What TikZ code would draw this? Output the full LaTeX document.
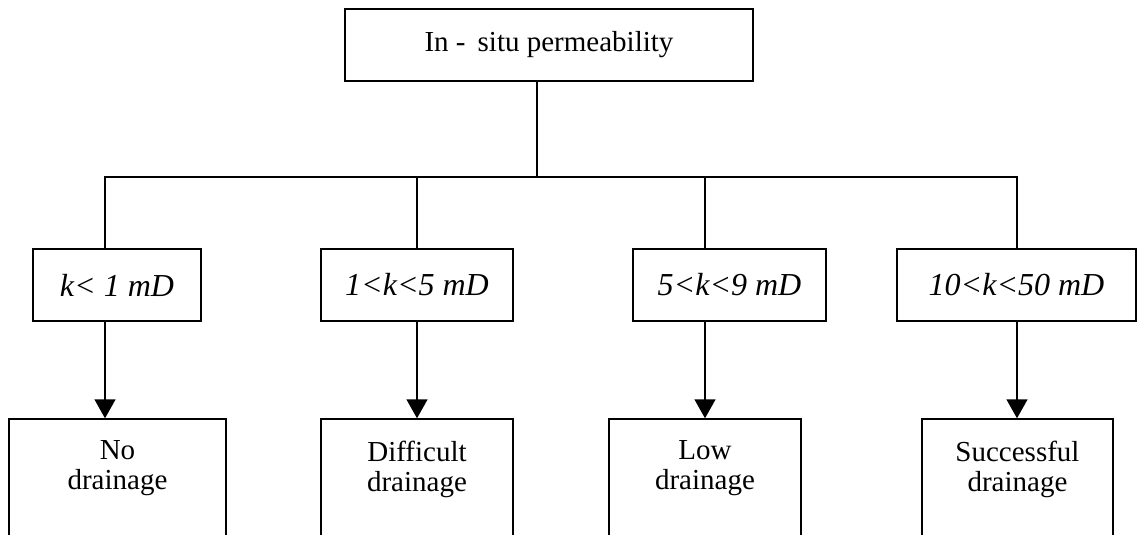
\documentclass[tikz,border=0pt]{standalone}
\usepackage{fontspec}
\setmainfont{Liberation Serif}
\usetikzlibrary{arrows.meta}
\tikzset{
  boxnode/.style={draw, line width=0.7pt, rectangle, inner sep=0pt, minimum height=36pt,
    font=\fontsize{14.5}{15}\selectfont},
  rangebox/.style={boxnode, font=\fontsize{16}{17}\selectfont\itshape},
  botbox/.style={draw, line width=0.7pt, rectangle, inner sep=0pt, minimum height=70pt},
  bottext/.style={align=center, inner sep=0pt, anchor=north,
    font=\fontsize{14.5}{15}\selectfont},
  link/.style={line width=0.7pt},
  arrowlink/.style={line width=0.7pt, -{Triangle[width=10.5pt,length=9.5pt]}}
}
\begin{document}
\begin{tikzpicture}[x=0.5pt,y=-0.5pt]
\useasboundingbox (0,0) rectangle (1137,535);
\clip (0,0) rectangle (1137,535);
% top box
\node[boxnode, minimum width=204pt] (top) at (549,45) {In -\, situ permeability};
% range boxes
\node[rangebox, minimum width=84pt]   (m1) at (117,285)    {k<\ 1 mD};
\node[rangebox, minimum width=96pt]   (m2) at (417,285)    {1<k<5 mD};
\node[rangebox, minimum width=96.5pt] (m3) at (729.5,285)  {5<k<9 mD};
\node[rangebox, minimum width=119.5pt] (m4) at (1016.5,285) {10<k<50 mD};
% bottom boxes (cut off by the page edge)
\node[botbox, minimum width=108.5pt] (n1) at (117.5,489) {};
\node[botbox, minimum width=96pt]    (n2) at (417,489)   {};
\node[botbox, minimum width=96pt]    (n3) at (705,489)   {};
\node[botbox, minimum width=95.5pt]  (n4) at (1017.5,489) {};
\node[bottext] (t1) at ([yshift=-11pt]n1.north) {No\\drainage};
\node[bottext] (t2) at ([yshift=-11pt]n2.north) {Difficult\\drainage};
\node[bottext] (t3) at ([yshift=-11pt]n3.north) {Low\\drainage};
\node[bottext] (t4) at ([yshift=-11pt]n4.north) {Successful\\drainage};
% branch points
\coordinate (stem) at (537,177);
\coordinate (b1) at (105,177);
\coordinate (b2) at (417,177);
\coordinate (b3) at (705,177);
\coordinate (b4) at (1017,177);
\draw[link] (top.south -| stem) -- (stem);
\draw[link] (b1 |- m1.north) -- (b1) -- (b4) -- (b4 |- m4.north);
\draw[link] (b2) -- (b2 |- m2.north);
\draw[link] (b3) -- (b3 |- m3.north);
\draw[arrowlink] (m1.south -| b1) -- (n1.north -| b1);
\draw[arrowlink] (m2.south -| b2) -- (n2.north -| b2);
\draw[arrowlink] (m3.south -| b3) -- (n3.north -| b3);
\draw[arrowlink] (m4.south -| b4) -- (n4.north -| b4);
\end{tikzpicture}
\end{document}
